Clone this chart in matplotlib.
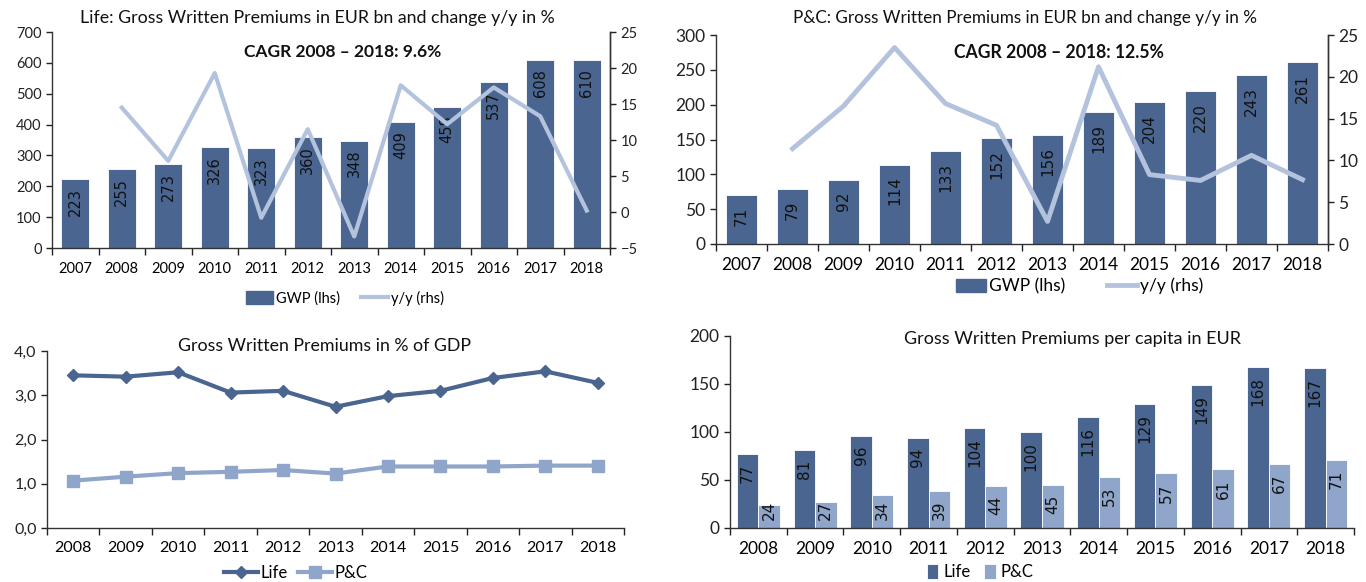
import matplotlib
matplotlib.use("Agg")
import matplotlib.pyplot as plt
import numpy as np
from matplotlib.ticker import FuncFormatter
from matplotlib.lines import Line2D
from matplotlib.patches import Patch

plt.rcParams['font.family'] = ['Lato', 'DejaVu Sans']

# ---- data ----
years_top = ['2007', '2008', '2009', '2010', '2011', '2012', '2013', '2014', '2015', '2016', '2017', '2018']
years_bot = years_top[1:]

life_gwp = [223, 255, 273, 326, 323, 360, 348, 409, 458, 537, 608, 610]
life_yoy = [np.nan, 14.5, 7.1, 19.3, -0.8, 11.5, -3.4, 17.6, 12.2, 17.3, 13.3, 0.2]

pc_gwp = [71, 79, 92, 114, 133, 152, 156, 189, 204, 220, 243, 261]
pc_yoy = [np.nan, 11.4, 16.5, 23.5, 16.8, 14.2, 2.7, 21.2, 8.3, 7.6, 10.6, 7.7]

gdp_life = [3.45, 3.42, 3.52, 3.06, 3.10, 2.74, 2.98, 3.10, 3.39, 3.54, 3.28]
gdp_pc = [1.07, 1.16, 1.24, 1.27, 1.31, 1.23, 1.39, 1.39, 1.39, 1.41, 1.41]

cap_life = [77, 81, 96, 94, 104, 100, 116, 129, 149, 168, 167]
cap_pc = [24, 27, 34, 39, 44, 45, 53, 57, 61, 67, 71]

DARK = '#4a6590'
LIGHT = '#8fa5c9'
LINE = '#b4c3dd'
W, H = 1366, 582


def box(l, r, t, b):
    return [l / W, (H - b) / H, (r - l) / W, (b - t) / H]


def style(ax, fs):
    ax.spines['top'].set_visible(False)
    for s in ax.spines.values():
        s.set_color('#333333')
        s.set_linewidth(1)
    ax.tick_params(axis='both', labelsize=fs, colors='#222222', length=4, width=1)


def cat_ticks(ax, labels, fs, pad):
    n = len(labels)
    ax.set_xlim(-0.5, n - 0.5)
    ax.set_xticks(np.arange(n + 1) - 0.5)
    ax.set_xticklabels([])
    ax.set_xticks(np.arange(n), minor=True)
    ax.set_xticklabels(labels, minor=True)
    ax.tick_params(axis='x', which='minor', length=0, labelsize=fs, pad=pad)
    ax.tick_params(axis='x', which='major', length=5)


def bar_labels(ax, xs, vals, fs, top_gap, min_gap, px_per_unit):
    # label sits a few px under the bar top, but never closer than min_gap to the base
    for xi, v in zip(xs, vals):
        txt = str(v)
        length = len(txt) * 0.64 * fs * 100 / 72
        y_top_px = v * px_per_unit - top_gap
        if y_top_px - length < min_gap:
            y_top_px = min_gap + length
        ax.text(xi, y_top_px / px_per_unit, txt, rotation=90, ha='center', va='top',
                fontsize=fs, family='DejaVu Sans', color='#111111', zorder=4)


def title(x, y, s, fs, bold=False):
    fig.text(x / W, 1 - y / H, s, ha='center', va='center', fontsize=fs,
             fontweight='bold' if bold else 'normal', color='#111111')


fig = plt.figure(figsize=(W / 100, H / 100), dpi=100)

# ---- top left: Life GWP ----
ax1 = fig.add_axes(box(52, 610, 32, 248))
x = np.arange(len(years_top))
ax1.bar(x, life_gwp, width=0.6, color=DARK, edgecolor='white', linewidth=0.6, zorder=2)
bar_labels(ax1, x, life_gwp, 10.5, 9, 6, 216 / 700)
ax1.set_ylim(0, 700)
ax1.set_yticks(range(0, 701, 100))
style(ax1, 10.5)
cat_ticks(ax1, years_top, 10.5, 10)
ax1b = ax1.twinx()
ax1b.plot(x, life_yoy, color=LINE, lw=3, zorder=3)
ax1b.set_ylim(-5, 25)
ax1b.set_yticks(range(-5, 26, 5))
style(ax1b, 10.5)
ax1b.spines['left'].set_visible(False)
ax1b.spines['bottom'].set_visible(False)
title(317, 18, 'Life: Gross Written Premiums in EUR bn and change y/y in %', 12.8)
title(343, 52, 'CAGR 2008 \u2013 2018: 9.6%', 12.5, bold=True)
ax1.legend([Patch(color=DARK), Line2D([], [], color=LINE, lw=3)], ['GWP (lhs)', 'y/y (rhs)'],
           loc='center', bbox_to_anchor=((345 - 52) / 558, -(298 - 248) / 216), ncol=2, frameon=False,
           fontsize=10.5, handlelength=1.9, handleheight=0.9, columnspacing=1.4, handletextpad=0.2)

# ---- top right: P&C GWP ----
ax2 = fig.add_axes(box(716, 1328, 35, 244))
ax2.bar(x, pc_gwp, width=0.6, color=DARK, edgecolor='white', linewidth=0.6, zorder=2)
bar_labels(ax2, x, pc_gwp, 11, 12, 6, 209 / 300)
ax2.set_ylim(0, 300)
ax2.set_yticks(range(0, 301, 50))
style(ax2, 12.5)
cat_ticks(ax2, years_top, 12.5, 9)
ax2b = ax2.twinx()
ax2b.plot(x, pc_yoy, color=LINE, lw=3.5, zorder=3)
ax2b.set_ylim(0, 25)
ax2b.set_yticks(range(0, 26, 5))
style(ax2b, 12.5)
ax2b.spines['left'].set_visible(False)
ax2b.spines['bottom'].set_visible(False)
title(1025, 18, 'P&C: Gross Written Premiums in EUR bn and change y/y in %', 12.3)
title(1059, 52, 'CAGR 2008 \u2013 2018: 12.5%', 12.7, bold=True)
ax2.legend([Patch(color=DARK), Line2D([], [], color=LINE, lw=3.5)], ['GWP (lhs)', 'y/y (rhs)'],
           loc='center', bbox_to_anchor=((1080 - 716) / 612, -(286 - 244) / 209), ncol=2, frameon=False,
           fontsize=12.5, handlelength=1.7, handleheight=0.8, columnspacing=2.4, handletextpad=0.2)

# ---- bottom left: % of GDP ----
ax3 = fig.add_axes(box(47, 624, 351, 528))
xb = np.arange(len(years_bot))
ax3.plot(xb, gdp_life, color=DARK, lw=3, marker='D', ms=6, label='Life', zorder=3)
ax3.plot(xb, gdp_pc, color=LIGHT, lw=3, marker='s', ms=9, label='P&C', zorder=3)
ax3.set_ylim(0, 4)
ax3.set_yticks(np.arange(0, 4.01, 1.0))
ax3.yaxis.set_major_formatter(FuncFormatter(lambda v, p: f'{v:.1f}'.replace('.', ',')))
style(ax3, 11.5)
cat_ticks(ax3, years_bot, 11.5, 9)
ax3.spines['right'].set_visible(False)
title(324, 346, 'Gross Written Premiums in % of GDP', 12.8)
ax3.legend(loc='center', bbox_to_anchor=((296 - 47) / 577, -(573 - 528) / 177), ncol=2, frameon=False,
           fontsize=12, handlelength=2.0, columnspacing=0.6, handletextpad=0.2)

# ---- bottom right: per capita ----
ax4 = fig.add_axes(box(730, 1354, 336, 528))
bw = 0.38
ax4.bar(xb - bw / 2, cap_life, width=bw, color=DARK, edgecolor='white', linewidth=0.6, label='Life', zorder=2)
ax4.bar(xb + bw / 2, cap_pc, width=bw, color=LIGHT, edgecolor='white', linewidth=0.6, label='P&C', zorder=2)
bar_labels(ax4, xb - bw / 2, cap_life, 11, 10, 8, 192 / 200)
bar_labels(ax4, xb + bw / 2, cap_pc, 11, 10, 8, 192 / 200)
ax4.set_ylim(0, 200)
ax4.set_yticks(range(0, 201, 50))
style(ax4, 12.5)
cat_ticks(ax4, years_bot, 12.5, 9)
ax4.spines['right'].set_visible(False)
title(1073, 339, 'Gross Written Premiums per capita in EUR', 13)
ax4.legend(loc='center', bbox_to_anchor=((980 - 730) / 624, -(572 - 528) / 192), ncol=2, frameon=False,
           fontsize=12, handlelength=0.7, handleheight=1.0, columnspacing=0.8, handletextpad=0.3)

fig.savefig('out.png', dpi=100)
